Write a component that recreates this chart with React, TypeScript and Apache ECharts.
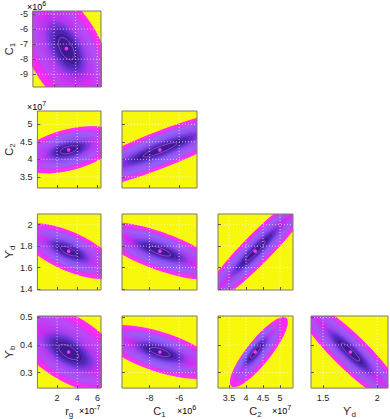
import React, { useEffect, useRef } from 'react';
import * as echarts from 'echarts';

// parameters: r_g (x1e-7), C1 (x1e6), C2 (x1e7), Upsilon_d, Upsilon_b
const paramNames = ['{m|r}{s|g}', '{m|C}{s|1}', '{m|C}{s|2}', '{m|ϒ}{s|d}', '{m|ϒ}{s|b}'];
const paramMeans = [3.15, -7.3, 4.27, 1.753, 0.3745];
const axisMin = [0.05, -9.85, 3.18, 1.39, 0.244];
const axisMax = [6.35, -4.8, 5.38, 2.1, 0.505];
const xTicks = [[2, 4, 6], [-8, -6], [3.5, 4, 4.5, 5], [1.5, 2], []];
const yTicks = [[], [-9, -8, -7, -6, -5], [3.5, 4, 4.5, 5], [1.4, 1.6, 1.8, 2], [0.3, 0.4, 0.5]];

// panels (row, col): x param = col, y param = row + 1
const panelRow = [0, 1, 1, 2, 2, 2, 3, 3, 3, 3];
const panelCol = [0, 0, 1, 0, 1, 2, 0, 1, 2, 3];
// outer contour half extents (data units), correlation, centre shift of outer contour
const panelSx = [4.3, 4.93, 6.57, 4.8, 4.27, 1.7, 5.72, 3.97, 0.844, 0.5];
const panelSy = [4.3, 0.669, 1.19, 0.258, 0.268, 0.55, 0.1605, 0.0966, 0.1266, 0.192];
const panelRho = [-0.52, 0.46, 0.887, -0.667, -0.732, 0.94, -0.59, -0.64, 0.86, -0.9];
const panelOffX = [-0.15, 0, 0, 0, 0, 0.06, 0, 0, 0.11, 0];
const panelOffY = [-0.12, 0, 0, 0, 0, 0.02, 0.013, 0, 0, 0];

const N_LEVELS = 34;

const colLeft = [27, 122, 218, 311];
const colWidth = [74, 75, 75, 77];
const rowTop = [11, 111, 214, 316];
const rowHeight = [76, 77, 76, 76];

const fillStops: [number, string][] = [
  [0, '#3c1a8e'], [0.24, '#3e1c96'], [0.3, '#4c24b0'], [0.38, '#7a2ed8'],
  [0.48, '#d020ee'], [0.6, '#fa16f2'], [1, '#ff1ef6'],
];
const strokeStops: [number, string][] = [
  [0, '#8a40ee'], [0.27, '#8a40ee'], [0.34, '#5a60f0'], [0.45, '#3a90f8'],
  [0.68, '#2eb0fa'], [0.8, '#8a70f8'], [0.88, '#f04cf4'], [1, '#ff40f8'],
];

function hex(c: string) {
  return [parseInt(c.slice(1, 3), 16), parseInt(c.slice(3, 5), 16), parseInt(c.slice(5, 7), 16)];
}
function interp(stops: [number, string][], r: number) {
  for (let i = 1; i < stops.length; i++) {
    if (r <= stops[i][0]) {
      const [r0, c0] = stops[i - 1];
      const [r1, c1] = stops[i];
      const t = (r - r0) / (r1 - r0 || 1);
      const a = hex(c0), b = hex(c1);
      return `rgb(${a.map((v, j) => Math.round(v + (b[j] - v) * t)).join(',')})`;
    }
  }
  return stops[stops.length - 1][1];
}

export default function App() {
  const ref = useRef<HTMLDivElement>(null);
  useEffect(() => {
    const chart = echarts.init(ref.current!, null, { renderer: 'svg' });
    const grids: any[] = [];
    const xAxes: any[] = [];
    const yAxes: any[] = [];
    const series: any[] = [];
    const nameRich = {
      m: { fontSize: 11, color: '#262626', fontFamily: 'Liberation Sans, DejaVu Sans', lineHeight: 16 },
      s: { fontSize: 8, color: '#262626', fontFamily: 'Liberation Sans', lineHeight: 16, padding: [7, 0, 0, 0] },
    };
    panelRow.forEach((row, i) => {
      const col = panelCol[i];
      const px = col;
      const py = row + 1;
      const bottom = row === 3;
      const left = col === 0;
      grids.push({
        left: colLeft[col], top: rowTop[row], width: colWidth[col], height: rowHeight[row],
        show: true, backgroundColor: 'transparent', borderColor: '#7a7a6a', borderWidth: 1, z: 10,
      });
      xAxes.push({
        gridIndex: i, type: 'value', min: axisMin[px], max: axisMax[px],
        axisLine: { show: false }, splitLine: { show: false },
        axisTick: { show: true, inside: true, length: 3, customValues: xTicks[px], lineStyle: { color: '#555' } },
        axisLabel: { show: bottom, customValues: xTicks[px], fontSize: 9, color: '#262626', margin: 5, fontFamily: 'Liberation Sans' },
        name: bottom ? paramNames[px] : '', nameLocation: 'middle', nameGap: 14,
        nameTextStyle: { rich: nameRich },
        z: 11,
      });
      yAxes.push({
        gridIndex: i, type: 'value', min: axisMin[py], max: axisMax[py],
        axisLine: { show: false }, splitLine: { show: false },
        axisTick: { show: true, inside: true, length: 3, customValues: yTicks[py], lineStyle: { color: '#555' } },
        axisLabel: { show: left, customValues: yTicks[py], fontSize: 9, color: '#262626', margin: 5, fontFamily: 'Liberation Sans' },
        name: left ? paramNames[py] : '', nameLocation: 'middle', nameGap: 12, nameRotate: 90,
        nameTextStyle: { rich: nameRich },
        z: 11,
      });
      const sx = panelSx[i], sy = panelSy[i], rho = panelRho[i];
      const sq = Math.sqrt(1 - rho * rho);
      series.push({
        type: 'custom', xAxisIndex: i, yAxisIndex: i, clip: true, z: 2,
        data: [[paramMeans[px], paramMeans[py]]],
        renderItem: (params: any, api: any) => {
          const cs = params.coordSys;
          const children: any[] = [];
          children.push({ type: 'rect', shape: { x: cs.x, y: cs.y, width: cs.width, height: cs.height }, style: { fill: '#f8f80c' } });
          const mx = api.value(0), my = api.value(1);
          for (let k = N_LEVELS; k >= 1; k--) {
            const r = Math.sqrt(k / N_LEVELS);
            const cx = mx + panelOffX[i] * r * r;
            const cy = my + panelOffY[i] * r * r;
            const pts: number[][] = [];
            for (let j = 0; j < 90; j++) {
              const t = (j / 90) * Math.PI * 2;
              const c = Math.cos(t), s = Math.sin(t);
              pts.push(api.coord([cx + r * sx * c, cy + r * sy * (rho * c + sq * s)]));
            }
            let stroke = interp(strokeStops, r);
            let so = r > 0.4 && r < 0.8 ? 0.75 : 0.6;
            if (k === 1) { stroke = '#ff70ff'; so = 1; }
            children.push({ type: 'polygon', shape: { points: pts }, style: { fill: interp(fillStops, r) } });
            children.push({ type: 'polygon', shape: { points: pts }, style: { fill: 'none', stroke, lineWidth: 0.5, opacity: so } });
          }
          const y0 = axisMin[py], y1 = axisMax[py], x0 = axisMin[px], x1 = axisMax[px];
          xTicks[px].forEach((v) => {
            const a = api.coord([v, y0]), b = api.coord([v, y1]);
            children.push({ type: 'line', shape: { x1: a[0], y1: a[1], x2: b[0], y2: b[1] }, style: { stroke: 'rgba(255,255,255,0.85)', lineWidth: 0.8, lineDash: [1, 2] } });
          });
          yTicks[py].forEach((v) => {
            const a = api.coord([x0, v]), b = api.coord([x1, v]);
            children.push({ type: 'line', shape: { x1: a[0], y1: a[1], x2: b[0], y2: b[1] }, style: { stroke: 'rgba(255,255,255,0.85)', lineWidth: 0.8, lineDash: [1, 2] } });
          });
          const p = api.coord([mx, my]);
          children.push({ type: 'circle', shape: { cx: p[0], cy: p[1], r: 1.8 }, style: { fill: '#ff33ff' } });
          return { type: 'group', children };
        },
      });
    });

    const multRich = {
      n: { fontSize: 9, color: '#262626', fontFamily: 'Liberation Sans' },
      p: { fontSize: 7, color: '#262626', fontFamily: 'Liberation Sans', padding: [0, 0, 6, 0] },
    };
    const mult = (x: number, y: number, e: string) => ({
      type: 'text', left: x, top: y, style: { text: `{n|×10}{p|${e}}`, rich: multRich },
    });

    chart.setOption({
      animation: false,
      grid: grids,
      xAxis: xAxes,
      yAxis: yAxes,
      series,
      graphic: [
        mult(27, 0, '6'),
        mult(27, 100, '7'),
        mult(79, 404, '-7'),
        mult(177, 404, '6'),
        mult(272, 404, '7'),
      ],
    });
    return () => chart.dispose();
  }, []);
  return <div ref={ref} style={{ position: 'absolute', left: 0, top: 0, width: 390, height: 419 }} />;
}
